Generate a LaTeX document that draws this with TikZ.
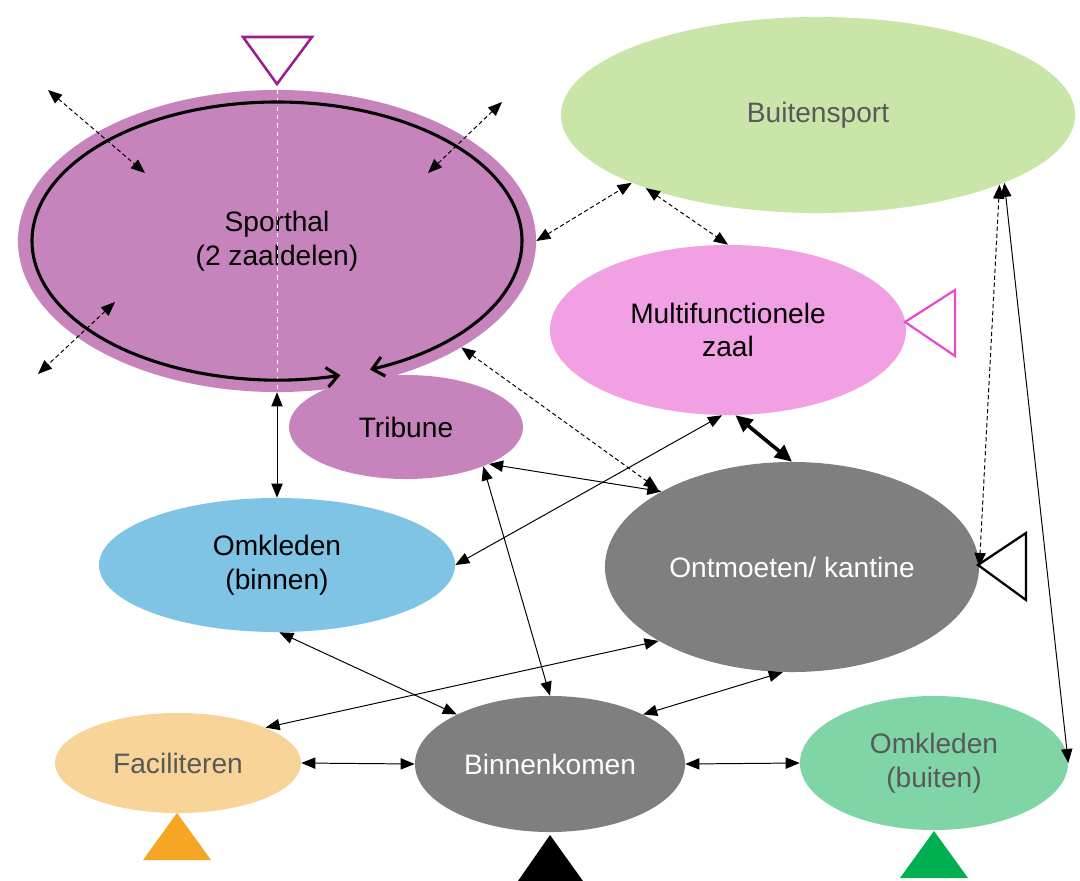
\documentclass[tikz,border=0pt]{standalone}
\usepackage{fontspec}
\setmainfont{Liberation Sans}
\usepackage{tikz}
\usetikzlibrary{shapes.geometric,arrows.meta}
\definecolor{hal}{HTML}{C784BC}
\definecolor{veld}{HTML}{C9E5A7}
\definecolor{multi}{HTML}{F2A0E4}
\definecolor{grijs}{HTML}{7F7F7F}
\definecolor{blauw}{HTML}{7FC3E5}
\definecolor{oranjelicht}{HTML}{F8D498}
\definecolor{groenlicht}{HTML}{80D5A7}
\definecolor{tekstgrijs}{HTML}{595959}
\definecolor{paars}{HTML}{9B1D8F}
\definecolor{roze}{HTML}{E94BCA}
\definecolor{oranje}{HTML}{F5A623}
\definecolor{groen}{HTML}{00B050}
\tikzstyle{zone} = [ellipse, inner sep=0pt, align=center, font=\fontsize{20}{24}\selectfont]
\tikzstyle{link} = [{Triangle[length=10pt,width=8pt]}-{Triangle[length=10pt,width=8pt]}, line width=0.7pt]
\tikzstyle{dashlink} = [link, dash pattern=on 3pt off 2pt]
\tikzstyle{heavylink} = [{Triangle[length=12pt,width=11pt]}-{Triangle[length=12pt,width=11pt]}, line width=2.6pt]
\tikzstyle{ring} = [-{Straight Barb[length=8pt,width=14pt]}, line width=2.2pt]

\begin{document}
\begin{tikzpicture}[x=0.025cm, y=-0.025cm]
		\useasboundingbox (0,0) rectangle (1080,881);
		\node [zone, fill=hal, minimum width=12.95cm, minimum height=7.55cm] (sporthal) at (277,241) {Sporthal\\(2 zaaldelen)};
		\node [zone, fill=hal, minimum width=5.85cm, minimum height=2.6cm] (tribune) at (406,427) {Tribune};
		\node [zone, fill=veld, text=tekstgrijs, minimum width=12.85cm, minimum height=4.9cm] (buitensport) at (818,115) {Buitensport};
		\node [zone, fill=multi, minimum width=8.9cm, minimum height=4.25cm] (multizaal) at (728,330) {Multifunctionele\\zaal};
		\node [zone, fill=grijs, text=white, minimum width=9.35cm, minimum height=5.25cm] (kantine) at (792,567) {Ontmoeten/ kantine};
		\node [zone, fill=blauw, minimum width=8.9cm, minimum height=3.35cm] (omkledenbin) at (277,565) {Omkleden\\(binnen)};
		\node [zone, fill=oranjelicht, text=tekstgrijs, minimum width=6.15cm, minimum height=2.5cm] (faciliteren) at (178,763) {Faciliteren};
		\node [zone, fill=grijs, text=white, minimum width=6.75cm, minimum height=3.4cm] (binnenkomen) at (550,764) {Binnenkomen};
		\node [zone, fill=groenlicht, text=tekstgrijs, minimum width=6.7cm, minimum height=3.35cm] (omkledenbui) at (934,763) {Omkleden\\(buiten)};

		% looprichting in de zaal
		\draw [white, dashed, line width=0.6pt] (sporthal.north) -- (sporthal.south);
		\draw [ring] (sporthal.center) ++(0,-139) arc [start angle=-90, end angle=-285, x radius=245, y radius=139];
		\draw [ring] (sporthal.center) ++(0,-139) arc [start angle=-90, end angle=67.7, x radius=245, y radius=139];

		% ingangen
		\draw [paars, line width=1.8pt] (243,37) -- (312,37) -- (277,84) -- cycle;
		\draw [roze, line width=1.6pt] (955,290) -- (955,356) -- (905,322) -- cycle;
		\draw [black, line width=1.6pt] (1026,533) -- (1026,600) -- (978,565) -- cycle;
		\fill [oranje] (143,860) -- (211,860) -- (177,813) -- cycle;
		\fill [black] (518,881) -- (583,881) -- (550,835) -- cycle;
		\fill [groen] (900,878) -- (968,878) -- (934,831) -- cycle;

		\coordinate (nw out) at (48,90);
		\coordinate (nw in) at (145,173);
		\coordinate (ne out) at (502,102);
		\coordinate (ne in) at (428,173);
		\coordinate (sw in) at (115,302);
		\coordinate (sw out) at (38,374);

		\draw [dashlink] (nw out) -- (nw in);
		\draw [dashlink] (ne out) -- (ne in);
		\draw [dashlink] (sw in) -- (sw out);
		\draw [dashlink] (sporthal.east) -- (buitensport.200);
		\draw [dashlink] (buitensport.203) -- (multizaal.north);
		\draw [dashlink, shorten >=3pt] (sporthal.-30) -- (kantine.150);
		\draw [dashlink] (buitensport.-21) -- (kantine.east);
		\draw [link] (buitensport.-20) -- (omkledenbui.east);
		\draw [link] (sporthal.south) -- (omkledenbin.north);
		\draw [heavylink] (multizaal.-85) -- (kantine.north);
		\draw [link] (multizaal.-94) -- (omkledenbin.east);
		\draw [link] (tribune.-24) -- (kantine.150);
		\draw [link] (tribune.-27) -- (binnenkomen.north);
		\draw [link] (omkledenbin.-88) -- (binnenkomen.152);
		\draw [link] (kantine.209) -- (faciliteren.22);
		\draw [link] (kantine.-95) -- (binnenkomen.28);
		\draw [link] (faciliteren.east) -- (binnenkomen.west);
		\draw [link] (binnenkomen.east) -- (omkledenbui.west);
	\end{tikzpicture}
\end{document}
